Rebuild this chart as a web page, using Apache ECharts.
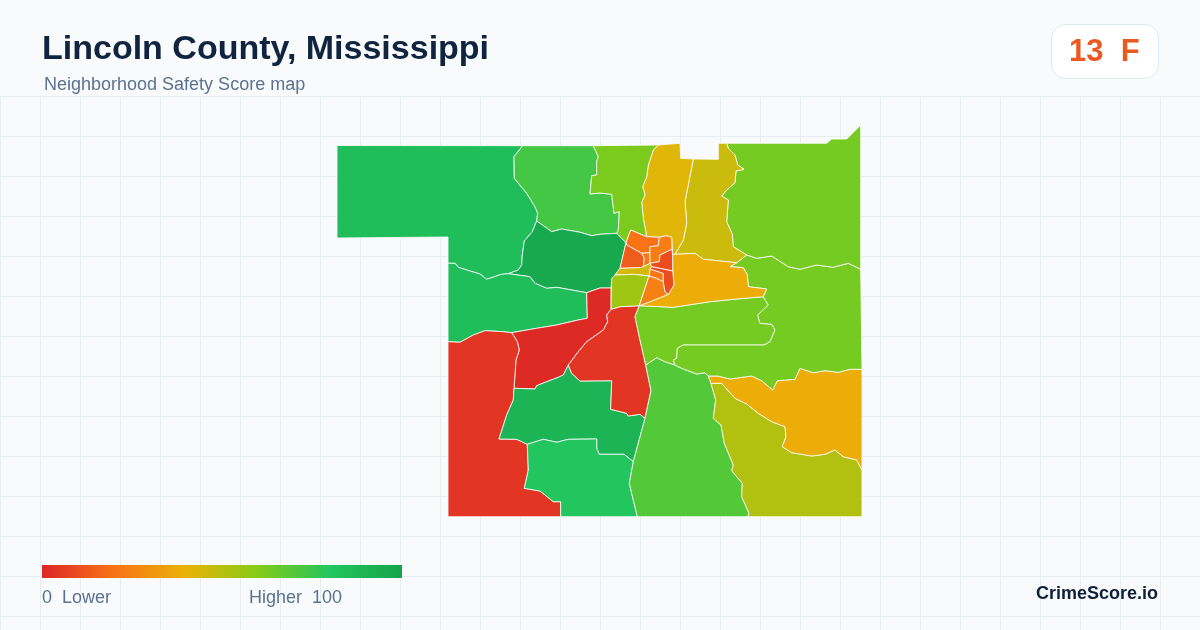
<!DOCTYPE html>
<html>
<head>
<meta charset="utf-8">
<title>Lincoln County, Mississippi</title>
<style>
  html, body { margin: 0; padding: 0; background: #f8fafc; }
  #main { width: 1200px; height: 630px; }
</style>
<script src="https://cdn.jsdelivr.net/npm/echarts@6/dist/echarts.min.js"></script>
</head>
<body>
<div id="main"></div>
<script>
// scores per tract
var tractNames = ['A','B','D','E','F','G','H','I','J','K','M','N','L1','L2','S','P','Q','R','O',
                  'c1','c2','c3','c4','c5','c6','c7','c8','c9','c10'];
var tractScores = [84,73,97,84,1,4,90,80,4,70,51,38,63,63,63,46,42,62,38,
                   20,14,22,23,10,44,55,24,21,10];
var scaleColors = ['#dc2626','#f97316','#eab308','#84cc16','#22c55e','#16a34a'];
var countyName = 'Lincoln County, Mississippi';
var subtitle = 'Neighborhood Safety Score map';
var countyScore = '13  F';

// tract outlines, shared borders first so neighbours line up
var ab = [[522.7,145.7],[514,156.7],[514.3,178.3],[526.7,193.3],[535,206.7],[537.7,213.3],[536.7,221]];
var ad = [[536.7,221],[532.3,231.7],[524.3,241],[522.3,255],[521.7,265],[518.3,270],[508.3,273.7]];
var ae = [[508.3,273.7],[501.7,274.3],[486.7,279.3],[480,274],[470,271],[458.3,267.3],[455,263.3],[448,263.3]];
var bd = [[536.7,221],[551.7,231.7],[561.7,229],[580,232.3],[591.7,235.7],[600,234.3],[616.7,233.3]];
var rb = [[593.3,145.7],[598.3,156.7],[596.7,161.7],[596.7,175],[591.7,175.7],[590,194],[600,193],[611.7,194.3],[614,213.3],[619.3,211.7],[618.3,230],[616.7,233.3]];
var de = [[508.3,273.7],[530,276.7],[535,283.3],[546.7,288.3],[556.7,287.3],[586.7,292.7]];
var ef = [[587.3,318.3],[578.3,320],[556.7,325],[536.7,328.3],[511.7,332.7]];
var eg = [[511.7,332.7],[503.3,331.7],[485,330.7],[473.3,335],[460,342.3],[448,341.7]];
var fj = [[607.7,321.7],[603.3,330],[586.7,341.7],[578.3,351.7],[568.3,365]];
var fh = [[568.3,365],[563.3,375],[558.3,377.3],[546.7,381.7],[536.7,385.7],[535,389],[514,388.3]];
var fg = [[514,388.3],[516,360],[519.3,350],[517.3,341.7],[511.7,332.7]];
var gh = [[514,388.3],[513.3,400],[506.7,415],[499,439],[516.7,439.3],[527.3,444.3]];
var gi = [[527.3,444.3],[528.3,470],[524.3,488.3],[540,491],[553.3,501.7],[560.7,501.7],[560.7,516.7]];
var hj = [[568.3,365],[571.7,373.3],[580,381],[611.7,380.7],[610.7,409.3],[626.7,413.3],[628.3,416],[640,414.3],[645,418.3]];
var hk = [[645,418.3],[633.3,461.7]];
var hi = [[633.3,461.7],[624,454.3],[599.3,454.3],[596.7,448.3],[596.7,439],[568.3,439.3],[556.7,442.3],[543.3,439.3],[527.3,444.3]];
var ik = [[633.3,461.7],[629.3,483.3],[637.3,516.7]];
var je = [[639.3,305.7],[635,316.7],[640,340],[645.7,365]];
var jk = [[645.7,365],[651,390.7],[645,418.3]];
var kl1 = [[645.7,365],[656.7,357.7],[665,361.7],[675,365]];
var kl2 = [[675,365],[681.7,368.3],[696.7,374],[705,372.7],[708.3,376]];
var km = [[708.3,376],[711,383.3],[715.7,400],[713.3,418.3],[721,425],[724.3,443.3],[733.3,465],[731.7,470.7],[742.3,483.3],[741.7,496.7],[749,513.3],[748,516.7]];
var mn = [[711,383.3],[721.7,383.3],[735,398.3],[746.7,404],[758.3,413.3],[771.7,421.7],[785,426.7],[786,436.7],[782.3,446.7],[791.7,452.7],[811.7,456],[825,454.3],[835,450],[843.3,456.7],[856.7,460],[862,470]];
var nTop = [[708.3,376],[718.3,376],[730,379],[751.7,376],[761.7,380.7],[772.7,390],[777.3,380.7],[795,379.3],[800,368.3],[813.3,372.7],[825,370.7],[838.3,372.3],[850,369.3],[862,369.3]];
var inner = [[763.3,296.7],[768.3,305],[757.7,315],[760,323.3],[771.7,324.3],[775,330],[770,341.7],[764.3,345],[683.3,345],[677.3,348.3],[676.7,358.3],[673.3,360],[675,365]];
var oBottom = [[763.3,296.7],[736.7,299],[710,301.7],[673.3,307.3],[639.3,305.7]];
var oEast = [[746.7,255],[736.7,262.7],[730,266.7],[743.3,267.7],[747.3,275],[748.3,286.7],[766.7,289],[763.3,296.7]];
var sTop = [[746.7,255],[756.7,258.3],[771.7,256],[788.3,266.7],[800,269.3],[816.7,265],[833.3,267.3],[848.3,263.3],[860.7,269.3]];
var pe = [[726.7,143.3],[728.3,148.3],[735,155],[737.7,165],[744,169.3],[736,171],[735,182.7],[726.7,190],[721.7,196],[728.3,200],[726.7,221.7],[732.3,234.3],[733.3,246.7],[746.7,255]];
var pBottom = [[746.7,255],[736.7,262.7],[703.3,259.3],[695,253.3],[675,254.3]];
var pq = [[675,254.3],[683.3,240],[686.7,223.3],[685,201.7],[693.3,159]];
var qw = [[658.3,145],[653.3,150],[648.3,165],[646.7,176.7],[642.7,186.7],[645,195],[641.7,202.3],[643.3,218.3],[646.7,236.7]];

function back(e) { return e.slice().reverse(); }
function ring() { return [].concat.apply([], arguments); }

var outlines = {
  A: ring([[337,145.5]], ab, ad, ae, [[448,237],[337,238]]),
  B: ring(rb, back(bd), back(ab)),
  D: ring(bd, [[626,242.7],[620,268.3],[615,275],[611.7,278.3],[611,288],[600,288],[586.7,292.7]], back(de), back(ad)),
  E: ring(back(ae), de, ef, eg),
  F: ring([[586.7,292.7],[600,288],[611,288],[611,309.3],[606.7,315]], fj, fh, fg, back(ef)),
  G: ring(back(eg), back(fg), gh, gi, [[448,516.7]]),
  H: ring(hj, hk, hi, back(gh), back(fh)),
  I: ring(back(hi), ik, back(gi)),
  J: ring([[607.7,321.7],[606.7,315],[611,309.3],[620,306.7]], je, jk, back(hj), back(fj)),
  K: ring(kl1, kl2, km, [[637.3,516.7]], back(ik), back(hk), back(jk)),
  M: ring(mn, [[862,516.7],[748,516.7]], back(km).slice(0, -1)),
  N: ring(nTop, [[862,470]], back(mn)),
  L1: ring(je, kl1, back(inner), oBottom),
  L2: ring(oEast, inner, kl2, nTop, [[861,369.3]], back(sTop)),
  S: ring(pe, sTop, [[860.7,125],[846.7,139],[831.7,139],[826.7,143.3]]),
  P: ring([[693.3,159],[718.3,159.3],[718.3,143.3]], pe, pBottom, pq),
  Q: ring([[680,143.3],[680.7,158.3]], back(pq), [[672.5,254.5],[671.7,237.3],[666,235.7],[659.3,237.3]], back(qw)),
  R: ring([[593.3,145.7]], qw, [[630.7,230],[626,242.7]], back(rb)),
  O: ring(back(pBottom).slice(0, -1), oEast.slice(1), oBottom, [[650,301.7],[668.3,294.3],[674,285],[672.7,271],[672.5,254.5]]),
  c1: [[630.7,230],[646.7,236.7],[659.3,237.3],[658.3,245.7],[650,246.7],[650,252.7],[641.7,253.3],[626.7,245],[626,242.7]],
  c2: [[626.7,245],[641.7,253.3],[644.3,258.3],[643.3,266.7],[640,267.7],[620,268.3],[626,242.7]],
  c3: [[641.7,253.3],[650,252.7],[650,263.3],[643.3,266.7],[644.3,258.3]],
  c4: [[659.3,237.3],[666,235.7],[671.7,237.3],[672,249.3],[660,255],[659.3,261.7],[650,263.3],[650,246.7],[658.3,245.7]],
  c5: [[672,249.3],[672.5,254.5],[672.7,271],[651.7,266.7],[650,263.3],[659.3,261.7],[660,255]],
  c6: [[620,268.3],[640,267.7],[643.3,266.7],[650,263.3],[651.7,266.7],[650,269],[649.3,276],[633.3,274.3],[615,275]],
  c7: [[615,275],[633.3,274.3],[649.3,276],[648.3,278.3],[639.3,305.7],[620,306.7],[611,309.3],[611.7,278.3]],
  c8: [[649.3,276],[656.7,278.3],[663.3,281.7],[665,291.7],[668.3,294.3],[650,301.7],[639.3,305.7],[648.3,278.3]],
  c9: [[650,269],[663.3,273.3],[663.3,281.7],[656.7,278.3],[649.3,276]],
  c10: [[651.7,266.7],[672.7,271],[674,285],[668.3,294.3],[665,291.7],[663.3,281.7],[663.3,273.3],[650,269]]
};

// y runs downward in the outlines, geojson wants it up
var countyGeo = {
  type: 'FeatureCollection',
  features: tractNames.map(function (n) {
    var pts = outlines[n].map(function (p) { return [p[0], -p[1]]; });
    pts.push(pts[0]);
    return { type: 'Feature', properties: { name: n }, geometry: { type: 'Polygon', coordinates: [pts] } };
  })
};
echarts.registerMap('lincoln', countyGeo);

// background grid, header stays clean
var backdrop = [];
for (var x = 0; x <= 1200; x += 40) {
  backdrop.push({ type: 'line', silent: true, z: 0, shape: { x1: x + .5, y1: 96, x2: x + .5, y2: 630 }, style: { stroke: '#e6eef2', lineWidth: 1 } });
}
for (var y = 96; y <= 630; y += 40) {
  backdrop.push({ type: 'line', silent: true, z: 0, shape: { x1: 0, y1: y + .5, x2: 1200, y2: y + .5 }, style: { stroke: '#e6eef2', lineWidth: 1 } });
}

var sans = '"Liberation Sans", Arial, sans-serif';

// legend bar, square ends like the original
var rampStops = scaleColors.map(function (c, i) { return { offset: i / (scaleColors.length - 1), color: c }; });

var option = {
  backgroundColor: '#f8fafc',
  animation: false,
  graphic: { elements: backdrop.concat([
    { type: 'text', z: 5, left: 42, top: 33, style: { text: countyName, font: 'bold 34px ' + sans, fill: '#10243f' } },
    { type: 'text', z: 5, left: 44, top: 76, style: { text: subtitle, font: '18px ' + sans, fill: '#5b7290' } },
    { type: 'rect', z: 5, shape: { x: 1051.5, y: 24.5, width: 107, height: 54, r: 14 }, style: { fill: '#ffffff', stroke: '#e2e8f0', lineWidth: 1 } },
    { type: 'text', z: 6, left: 1069, top: 37, style: { text: countyScore, font: 'bold 31px ' + sans, fill: '#ea5a20' } },
    { type: 'rect', z: 5, shape: { x: 42, y: 565, width: 360, height: 13 }, style: { fill: new echarts.graphic.LinearGradient(0, 0, 1, 0, rampStops) } },
    { type: 'text', z: 5, left: 42, top: 589, style: { text: '0  Lower', font: '18px ' + sans, fill: '#5b7290' } },
    { type: 'text', z: 5, left: 249, top: 589, style: { text: 'Higher  100', font: '18px ' + sans, fill: '#5b7290' } },
    { type: 'text', z: 5, left: 1036, top: 585, style: { text: 'CrimeScore.io', font: 'bold 18px ' + sans, fill: '#0f1f38' } }
  ]) },
  visualMap: {
    type: 'continuous',
    show: false,
    min: 0,
    max: 100,
    seriesIndex: 0,
    inRange: { color: scaleColors }
  },
  series: [{
    type: 'map',
    map: 'lincoln',
    left: 337,
    top: 125,
    width: 525,
    height: 391.7,
    aspectScale: 1,
    roam: false,
    silent: true,
    label: { show: false },
    itemStyle: { borderColor: '#ffffff', borderWidth: .8 },
    data: tractNames.map(function (n, i) { return { name: n, value: tractScores[i] }; })
  }]
};

echarts.init(document.getElementById('main')).setOption(option);
</script>
</body>
</html>
